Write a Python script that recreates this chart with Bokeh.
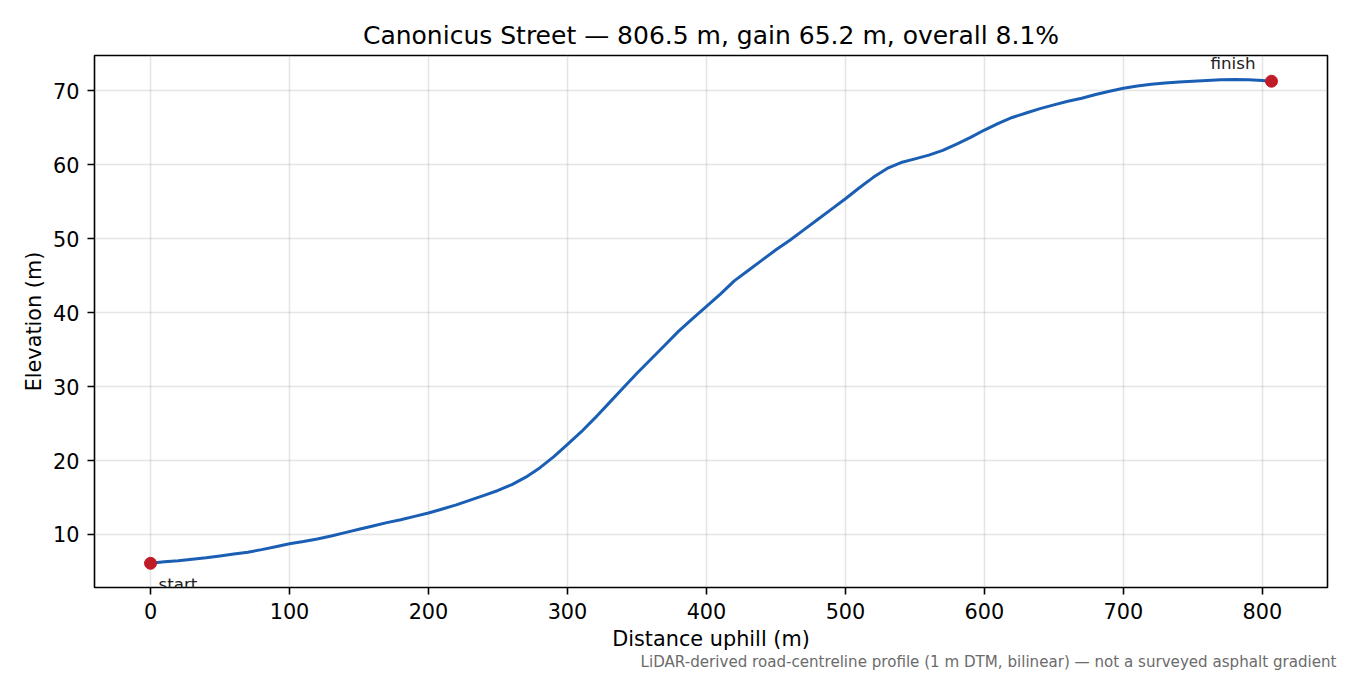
from bokeh.plotting import figure
from bokeh.models import Range1d, FixedTicker, Title, ColumnDataSource
from bokeh.core.properties import value
from bokeh.embed import file_html
from bokeh.resources import INLINE

# ---- data ----
distance_m = [0, 10, 20, 30, 40, 50, 60, 70, 80, 90, 100, 110, 120, 130, 140, 150,
              160, 170, 180, 190, 200, 210, 220, 230, 240, 250, 260, 270, 280, 290,
              300, 310, 320, 330, 340, 350, 360, 370, 380, 390, 400, 410, 420, 430,
              440, 450, 460, 470, 480, 490, 500, 510, 520, 530, 540, 550, 560, 570,
              580, 590, 600, 610, 620, 630, 640, 650, 660, 670, 680, 690, 700, 710,
              720, 730, 740, 750, 760, 770, 780, 790, 800, 806.5]
elevation_m = [6.1, 6.3, 6.45, 6.65, 6.85, 7.1, 7.35, 7.6, 7.95, 8.35, 8.75, 9.05,
               9.4, 9.8, 10.25, 10.7, 11.15, 11.6, 12.0, 12.45, 12.9, 13.45, 14.0,
               14.65, 15.3, 15.95, 16.75, 17.75, 19.0, 20.5, 22.2, 23.9, 25.8, 27.8,
               29.8, 31.8, 33.7, 35.6, 37.5, 39.2, 40.85, 42.5, 44.3, 45.7, 47.1,
               48.5, 49.8, 51.2, 52.6, 54.0, 55.4, 56.9, 58.3, 59.5, 60.3, 60.8,
               61.3, 61.95, 62.8, 63.7, 64.7, 65.6, 66.4, 67.0, 67.6, 68.1, 68.6,
               69.0, 69.5, 69.95, 70.35, 70.65, 70.9, 71.05, 71.2, 71.3, 71.4, 71.5,
               71.55, 71.5, 71.4, 71.3]
end_labels = ["start", "finish"]
x_ticks = [0, 100, 200, 300, 400, 500, 600, 700, 800]
y_ticks = [10, 20, 30, 40, 50, 60, 70]
title_text = "Canonicus Street \u2014 806.5 m, gain 65.2 m, overall 8.1%"
footnote_text = ("LiDAR-derived road-centreline profile (1 m DTM, bilinear) "
                 "\u2014 not a surveyed asphalt gradient")

FONT = "DejaVu Sans"
LINE_BLUE = "#1a5fb4"
DOT_RED = "#c01c28"

W, H = 1350, 675
p = figure(width=W, height=H, output_backend="svg", toolbar_location=None,
           x_range=Range1d(-40.3, 846.8), y_range=Range1d(2.83, 74.78),
           min_border_left=94, min_border_right=23, min_border_top=55,
           min_border_bottom=88)

p.title.text = title_text
p.title.text_font = FONT
p.title.text_font_size = "25px"
p.title.text_font_style = "normal"
p.title.align = "center"
p.title.text_color = "black"
p.title.standoff = 12

p.outline_line_color = "black"
p.outline_line_width = 1.6
p.outline_line_alpha = 1.0

for ax in (p.xaxis[0], p.yaxis[0]):
    ax.axis_line_color = None
    ax.major_tick_in = 0
    ax.major_tick_out = 7
    ax.major_tick_line_color = "black"
    ax.major_tick_line_width = 1.6
    ax.minor_tick_line_color = None
    ax.major_label_text_font = FONT
    ax.major_label_text_font_size = "20.8px"
    ax.major_label_text_color = "black"
    ax.axis_label_text_font = FONT
    ax.axis_label_text_font_size = "20.8px"
    ax.axis_label_text_font_style = "normal"
    ax.axis_label_text_color = "black"

p.xaxis.ticker = FixedTicker(ticks=x_ticks)
p.yaxis.ticker = FixedTicker(ticks=y_ticks)
p.xaxis.axis_label = "Distance uphill (m)"
p.yaxis.axis_label = "Elevation (m)"
p.xaxis.major_label_standoff = 8
p.yaxis.major_label_standoff = 8
p.xaxis.axis_label_standoff = 5
p.yaxis.axis_label_standoff = 4

p.grid.grid_line_color = "#b0b0b0"
p.grid.grid_line_alpha = 0.33
p.grid.grid_line_width = 1.5

src = ColumnDataSource(dict(x=distance_m, y=elevation_m))
p.line("x", "y", source=src, line_color=LINE_BLUE, line_width=3,
       line_join="round", line_cap="round")

ends = ColumnDataSource(dict(x=[distance_m[0], distance_m[-1]],
                             y=[elevation_m[0], elevation_m[-1]]))
p.scatter("x", "y", source=ends, size=12, fill_color=DOT_RED, line_color=DOT_RED)

start_src = ColumnDataSource(dict(x=[distance_m[0]], y=[elevation_m[0]], t=[end_labels[0]]))
finish_src = ColumnDataSource(dict(x=[distance_m[-1]], y=[elevation_m[-1]], t=[end_labels[1]]))
p.text("x", "y", text="t", source=start_src, x_offset=8, y_offset=21,
       text_font=value(FONT), text_font_size="16.7px", text_color="#222222",
       text_align="left", text_baseline="alphabetic")
p.text("x", "y", text="t", source=finish_src, x_offset=-16, y_offset=-18,
       text_font=value(FONT), text_font_size="16.7px", text_color="#222222",
       text_align="right", text_baseline="alphabetic")

foot = Title(text=footnote_text, align="right", offset=-9, standoff=-5,
             text_font=FONT, text_font_size="15.1px", text_font_style="normal",
             text_color="#6b6b6b")
p.add_layout(foot, "below")

open("out.html", "w").write(file_html(p, INLINE))
